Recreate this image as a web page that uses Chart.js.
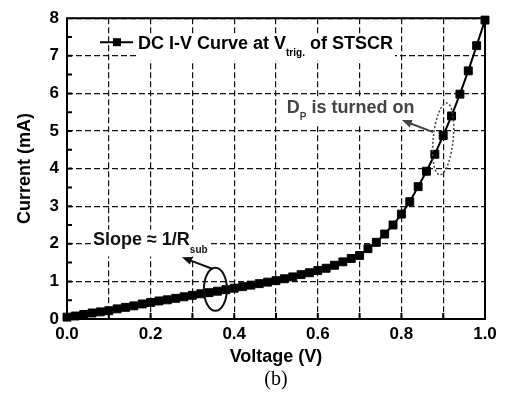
<!DOCTYPE html>
<html>
<head>
<meta charset="utf-8">
<script src="https://cdn.jsdelivr.net/npm/chart.js@4/dist/chart.umd.min.js"></script>
<style>
  html, body { margin: 0; padding: 0; background: #fff; }
  canvas { display: block; }
</style>
</head>
<body>
<canvas id="ivCurve" width="511" height="394"></canvas>
<script>
// DC I-V curve, 0.02 V steps
const voltage = [
  0.00, 0.02, 0.04, 0.06, 0.08, 0.10, 0.12, 0.14, 0.16, 0.18,
  0.20, 0.22, 0.24, 0.26, 0.28, 0.30, 0.32, 0.34, 0.36, 0.38,
  0.40, 0.42, 0.44, 0.46, 0.48, 0.50, 0.52, 0.54, 0.56, 0.58,
  0.60, 0.62, 0.64, 0.66, 0.68, 0.70, 0.72, 0.74, 0.76, 0.78,
  0.80, 0.82, 0.84, 0.86, 0.88, 0.90, 0.92, 0.94, 0.96, 0.98, 1.00
];
const currentMA = [
  0.05, 0.08, 0.12, 0.16, 0.19, 0.22, 0.27, 0.31, 0.35, 0.40,
  0.44, 0.48, 0.51, 0.55, 0.59, 0.63, 0.67, 0.70, 0.74, 0.78,
  0.82, 0.86, 0.90, 0.94, 0.98, 1.02, 1.07, 1.12, 1.18, 1.23,
  1.29, 1.35, 1.43, 1.52, 1.61, 1.69, 1.87, 2.04, 2.26, 2.50,
  2.79, 3.12, 3.52, 3.93, 4.38, 4.88, 5.40, 5.98, 6.60, 7.27, 7.95
];
const xTickLabels = ['0.0', '0.2', '0.4', '0.6', '0.8', '1.0'];
const yTickLabels = ['0', '1', '2', '3', '4', '5', '6', '7', '8'];

const FONT = '"Liberation Sans", Arial, sans-serif';

// text with subscripts on a white box: parts = [{t, sub}]
function richText(ctx, parts, x, y, color, subDrop) {
  ctx.save();
  ctx.textAlign = 'left';
  ctx.textBaseline = 'alphabetic';
  let w = 0;
  parts.forEach(p => {
    ctx.font = 'bold ' + (p.sub ? 10 : 18) + 'px ' + FONT;
    w += ctx.measureText(p.t).width;
  });
  ctx.fillStyle = '#fff';
  ctx.fillRect(x - 2, y - 15, w + 4, 19 + subDrop);
  ctx.fillStyle = color;
  parts.forEach(p => {
    ctx.font = 'bold ' + (p.sub ? 10 : 18) + 'px ' + FONT;
    ctx.fillText(p.t, x, y + (p.sub ? subDrop : 0));
    x += ctx.measureText(p.t).width;
  });
  ctx.restore();
}

function arrow(ctx, x1, y1, x2, y2, color) {
  const ang = Math.atan2(y2 - y1, x2 - x1);
  const len = 10, half = 4;
  ctx.save();
  ctx.strokeStyle = color;
  ctx.fillStyle = color;
  ctx.lineWidth = 2;
  ctx.beginPath();
  ctx.moveTo(x1, y1);
  ctx.lineTo(x2 - Math.cos(ang) * len * 0.8, y2 - Math.sin(ang) * len * 0.8);
  ctx.stroke();
  ctx.beginPath();
  ctx.moveTo(x2, y2);
  ctx.lineTo(x2 - Math.cos(ang) * len - Math.sin(ang) * half, y2 - Math.sin(ang) * len + Math.cos(ang) * half);
  ctx.lineTo(x2 - Math.cos(ang) * len + Math.sin(ang) * half, y2 - Math.sin(ang) * len - Math.cos(ang) * half);
  ctx.closePath();
  ctx.fill();
  ctx.restore();
}

const annotations = {
  id: 'annotations',
  afterDraw(chart) {
    const { ctx, chartArea: a, scales } = chart;
    const px = v => scales.x.getPixelForValue(v);
    const py = v => scales.y.getPixelForValue(v);

    ctx.save();
    // inside ticks
    ctx.strokeStyle = '#000';
    ctx.lineWidth = 2;
    ctx.beginPath();
    for (let i = 1; i < 16; i++) {
      const y = py(i * 0.5);
      ctx.moveTo(a.left, y); ctx.lineTo(a.left + 5, y);
    }
    for (let i = 1; i < 10; i++) {
      const x = px(i * 0.1);
      ctx.moveTo(x, a.bottom); ctx.lineTo(x, a.bottom - 6);
    }
    ctx.stroke();

    // frame
    ctx.lineWidth = 2;
    ctx.strokeRect(a.left, a.top, a.right - a.left, a.bottom - a.top);

    // legend
    richText(ctx, [{ t: 'DC I-V Curve at V' }, { t: 'trig.', sub: true }, { t: ' of STSCR' }],
      a.left + 71, a.top + 31, '#000', 7);
    const ly = a.top + 24;
    ctx.strokeStyle = '#000';
    ctx.lineWidth = 2;
    ctx.beginPath();
    ctx.moveTo(a.left + 33, ly); ctx.lineTo(a.left + 66, ly);
    ctx.stroke();
    ctx.fillStyle = '#000';
    ctx.fillRect(a.left + 50 - 4, ly - 4, 8, 8);

    // Slope annotation
    richText(ctx, [{ t: 'Slope \u2248 1/R' }, { t: 'sub', sub: true }], px(0.062), py(1.98), '#111', 8);
    arrow(ctx, px(0.349), py(1.33), px(0.275), py(1.64), '#111');
    ctx.strokeStyle = '#111';
    ctx.lineWidth = 2;
    ctx.beginPath();
    ctx.ellipse(px(0.355), py(0.79), 11.5, 21.5, 0, 0, Math.PI * 2);
    ctx.stroke();

    // D_P annotation
    richText(ctx, [{ t: 'D' }, { t: 'P', sub: true }, { t: ' is turned on' }], px(0.526), py(5.49), '#444', 7);
    arrow(ctx, px(0.876), py(4.97), px(0.801), py(5.29), '#444');
    ctx.strokeStyle = '#444';
    ctx.lineWidth = 1.5;
    ctx.setLineDash([2, 2]);
    ctx.beginPath();
    ctx.ellipse(px(0.90), py(4.79), 10, 36, 0.1, 0, Math.PI * 2);
    ctx.stroke();
    ctx.setLineDash([]);

    // panel label
    ctx.fillStyle = '#000';
    ctx.font = '20px "Liberation Serif", "Times New Roman", serif';
    ctx.textAlign = 'center';
    ctx.textBaseline = 'alphabetic';
    ctx.fillText('(b)', (a.left + a.right) / 2, 385);
    ctx.restore();
  }
};

new Chart(document.getElementById('ivCurve'), {
  type: 'scatter',
  data: {
    datasets: [{
      label: 'DC I-V Curve at Vtrig. of STSCR',
      data: voltage.map((v, i) => ({ x: v, y: currentMA[i] })),
      showLine: true,
      borderColor: '#000',
      borderWidth: 2,
      pointStyle: 'rect',
      pointRadius: 5.6,
      pointBackgroundColor: '#000',
      pointBorderColor: '#000',
      pointBorderWidth: 1,
      clip: 6
    }]
  },
  options: {
    responsive: false,
    animation: false,
    devicePixelRatio: 1,
    layout: { padding: { top: 12, right: 26, bottom: 26, left: 0 } },
    plugins: {
      legend: { display: false },
      tooltip: { enabled: false }
    },
    scales: {
      x: {
        type: 'linear',
        min: 0,
        max: 1,
        afterFit: s => { s.height = 49; },
        ticks: {
          stepSize: 0.1,
          autoSkip: false,
          maxRotation: 0,
          padding: 5,
          color: '#000',
          font: { family: FONT, size: 17, weight: 'bold' },
          callback: v => {
            const k = Math.round(v * 10);
            return k % 2 === 0 ? xTickLabels[k / 2] : '';
          }
        },
        grid: { color: '#111', lineWidth: 1.2, drawTicks: false },
        border: { display: false, dash: [6, 3] },
        title: {
          display: true,
          text: 'Voltage (V)',
          color: '#000',
          padding: { top: 0, bottom: 0 },
          font: { family: FONT, size: 18, weight: 'bold' }
        }
      },
      y: {
        min: 0,
        max: 8,
        afterFit: s => { s.width = 67; },
        ticks: {
          stepSize: 1,
          padding: 8,
          color: '#000',
          font: { family: FONT, size: 17, weight: 'bold' },
          callback: v => yTickLabels[Math.round(v)]
        },
        grid: { color: '#111', lineWidth: 1.2, drawTicks: false },
        border: { display: false, dash: [6, 3] },
        title: {
          display: true,
          text: 'Current (mA)',
          color: '#000',
          padding: { top: 14, bottom: 0 },
          font: { family: FONT, size: 18, weight: 'bold' }
        }
      }
    }
  },
  plugins: [annotations]
});
</script>
</body>
</html>
